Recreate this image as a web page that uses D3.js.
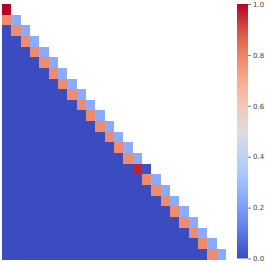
<!DOCTYPE html>
<meta charset="utf-8">
<script src="https://d3js.org/d3.v7.min.js"></script>
<style>
  body { margin: 0; background: #fff; }
</style>
<svg id="chart" width="266" height="266"></svg>
<script>

// grid size (lower triangle incl. diagonal)
var n = 24;

// values on the diagonal (row i, col i)
var diagValues = [1.0, 0.24, 0.24, 0.24, 0.24, 0.24, 0.24, 0.24, 0.24, 0.24, 0.24, 0.24,
                  0.24, 0.24, 0.24, 0.01, 0.24, 0.24, 0.24, 0.24, 0.24, 0.24, 0.24, 0.24];

// values just below the diagonal (row i, col i-1), starting at row 1
var subDiagValues = [0.78, 0.78, 0.78, 0.78, 0.78, 0.78, 0.78, 0.78, 0.78, 0.78, 0.78,
                     0.78, 0.78, 0.78, 0.96, 0.78, 0.78, 0.78, 0.78, 0.78, 0.78, 0.78, 0.78];

// everything else in the lower triangle
var restValue = 0.0;

var cbTicks = [0.0, 0.2, 0.4, 0.6, 0.8, 1.0];

// coolwarm colour stops
var cwStops = ["#3b4cc0", "#6282ea", "#8db0fe", "#b8d0f9", "#dddddd",
               "#f5c4ac", "#f49a7b", "#de604d", "#b40426"];

var color = d3.scaleLinear()
  .domain(d3.range(cwStops.length).map(function(i) { return i / (cwStops.length - 1); }))
  .range(cwStops)
  .interpolate(d3.interpolateRgb);

// build cells
var cells = [];
for (var r = 0; r < n; r++) {
  for (var c = 0; c <= r; c++) {
    var v = restValue;
    if (c === r) v = diagValues[r];
    else if (c === r - 1) v = subDiagValues[r - 1];
    cells.push({row: r, col: c, value: v});
  }
}

var svg = d3.select("#chart");

var x = d3.scaleBand().domain(d3.range(n)).range([2, 226]);
var y = d3.scaleBand().domain(d3.range(n)).range([4, 259.5]);

svg.append("g")
  .selectAll("rect")
  .data(cells)
  .enter()
  .append("rect")
    .attr("x", function(d) { return x(d.col); })
    .attr("y", function(d) { return y(d.row); })
    .attr("width", x.bandwidth())
    .attr("height", y.bandwidth())
    .attr("fill", function(d) { return color(d.value); })
    .attr("shape-rendering", "crispEdges");

// colorbar
var cbX = 237, cbW = 11;
var cbScale = d3.scaleLinear().domain([0, 1]).range([258.5, 4]);

var defs = svg.append("defs");
var grad = defs.append("linearGradient")
  .attr("id", "cbGrad")
  .attr("x1", "0").attr("y1", "1").attr("x2", "0").attr("y2", "0");
grad.selectAll("stop")
  .data(d3.range(0, 1.0001, 0.05))
  .enter()
  .append("stop")
    .attr("offset", function(d) { return d; })
    .attr("stop-color", function(d) { return color(d); });

svg.append("rect")
  .attr("x", cbX)
  .attr("y", cbScale(1))
  .attr("width", cbW)
  .attr("height", cbScale(0) - cbScale(1))
  .attr("fill", "url(#cbGrad)");

var axis = d3.axisRight(cbScale)
  .tickValues(cbTicks)
  .tickFormat(d3.format(".1f"))
  .tickSize(3)
  .tickPadding(2);

var ax = svg.append("g")
  .attr("transform", "translate(" + (cbX + cbW) + ",0)")
  .call(axis);

ax.select(".domain").remove();
ax.selectAll(".tick line").attr("stroke", "#555").attr("stroke-width", 0.8);
ax.selectAll(".tick text")
  .attr("fill", "#444")
  .style("font-family", "DejaVu Sans, sans-serif")
  .style("font-size", "7px");

</script>
